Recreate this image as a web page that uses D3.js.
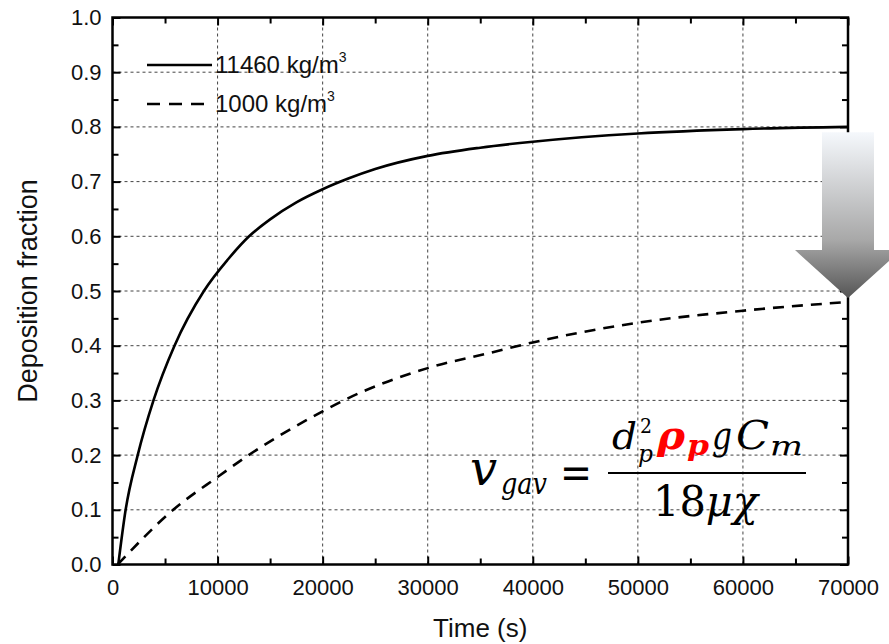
<!DOCTYPE html>
<html>
<head>
<meta charset="utf-8">
<script src="https://cdn.jsdelivr.net/npm/d3@7"></script>
<style>
  html, body { margin: 0; padding: 0; background: #fff; }
  svg { display: block; }
  .sans { font-family: Arial, "Liberation Sans", sans-serif; }
  .serif { font-family: "DejaVu Serif", "Liberation Serif", serif; }
</style>
</head>
<body>
<svg id="chart" width="889" height="644"></svg>
<script>
// ---- Data ----
const timeDense = [550, 1250, 2400, 3900, 5900, 8700, 11000, 13000, 15000, 17500, 20000, 22500, 25000, 30000, 35000, 40000, 50000, 60000, 70000];
const fracDense = [0, 0.1, 0.2, 0.3, 0.4, 0.5, 0.558, 0.6, 0.631, 0.662, 0.686, 0.706, 0.723, 0.747, 0.762, 0.773, 0.788, 0.796, 0.800];
const timeLight = [500, 5780, 10000, 12960, 20000, 22000, 30000, 35940, 40000, 50000, 60000, 70000];
const fracLight = [0, 0.1, 0.16, 0.2, 0.280, 0.3, 0.359, 0.387, 0.406, 0.442, 0.464, 0.48];
const seriesNames = ["11460 kg/m", "1000 kg/m"];
const xTicks = [0, 10000, 20000, 30000, 40000, 50000, 60000, 70000];
const yTicks = [0, 0.1, 0.2, 0.3, 0.4, 0.5, 0.6, 0.7, 0.8, 0.9, 1.0];
const xLabel = "Time (s)";
const yLabel = "Deposition fraction";

const svg = d3.select("#chart");
const x = d3.scaleLinear().domain([0, 70000]).range([112.5, 848]);
const y = d3.scaleLinear().domain([0, 1]).range([564.5, 17.5]);
const [x0, x1] = x.range();
const [yb, yt] = y.range();

// grid
const grid = svg.append("g").attr("stroke", "#444").attr("stroke-width", 1).attr("stroke-dasharray", "3,3");
grid.selectAll("line.v").data(xTicks.slice(1, -1)).join("line")
  .attr("x1", d => x(d)).attr("x2", d => x(d)).attr("y1", yb).attr("y2", yt);
grid.selectAll("line.h").data(yTicks.slice(1, -1)).join("line")
  .attr("y1", d => y(d)).attr("y2", d => y(d)).attr("x1", x0).attr("x2", x1);

const minorX = d3.range(5000, 70000, 10000);
const minorY = d3.range(0.05, 1, 0.1);

function styleAxis(g) {
  g.select(".domain").remove();
  g.selectAll(".tick line").attr("stroke", "#000").attr("stroke-width", 2);
  g.selectAll("text").attr("class", "sans").style("font-size", "22px").attr("fill", "#111");
}

svg.append("g").attr("transform", `translate(0,${yb})`)
  .call(d3.axisBottom(x).tickValues(xTicks).tickSize(-8).tickPadding(15).tickFormat(d3.format("d")))
  .call(styleAxis);
svg.append("g").attr("transform", `translate(0,${yb})`)
  .call(d3.axisBottom(x).tickValues(minorX).tickSize(-6).tickFormat(""))
  .call(styleAxis);
svg.append("g").attr("transform", `translate(0,${yt})`)
  .call(d3.axisTop(x).tickValues(xTicks).tickSize(-8).tickFormat(""))
  .call(styleAxis);
svg.append("g").attr("transform", `translate(0,${yt})`)
  .call(d3.axisTop(x).tickValues(minorX).tickSize(-6).tickFormat(""))
  .call(styleAxis);
svg.append("g").attr("transform", `translate(${x0},0)`)
  .call(d3.axisLeft(y).tickValues(yTicks).tickSize(-8).tickPadding(11).tickFormat(d3.format(".1f")))
  .call(styleAxis);
svg.append("g").attr("transform", `translate(${x0},0)`)
  .call(d3.axisLeft(y).tickValues(minorY).tickSize(-6).tickFormat(""))
  .call(styleAxis);
svg.append("g").attr("transform", `translate(${x1},0)`)
  .call(d3.axisRight(y).tickValues(yTicks).tickSize(-8).tickFormat(""))
  .call(styleAxis);
svg.append("g").attr("transform", `translate(${x1},0)`)
  .call(d3.axisRight(y).tickValues(minorY).tickSize(-6).tickFormat(""))
  .call(styleAxis);

// curves
const line = d3.line().x(d => x(d[0])).y(d => y(d[1])).curve(d3.curveMonotoneX);
svg.append("path").datum(d3.zip(timeDense, fracDense)).attr("d", line)
  .attr("fill", "none").attr("stroke", "#000").attr("stroke-width", 2.6);
svg.append("path").datum(d3.zip(timeLight, fracLight)).attr("d", line)
  .attr("fill", "none").attr("stroke", "#000").attr("stroke-width", 2.6).attr("stroke-dasharray", "11,8");

// frame
svg.append("rect").attr("x", x0).attr("y", yt).attr("width", x1 - x0).attr("height", yb - yt)
  .attr("fill", "none").attr("stroke", "#000").attr("stroke-width", 2.5);

// axis titles
svg.append("text").attr("class", "sans").attr("x", (x0 + x1) / 2).attr("y", 637).attr("text-anchor", "middle")
  .style("font-size", "26px").attr("fill", "#111").text(xLabel);
svg.append("text").attr("class", "sans").attr("transform", `translate(37,${(yb + yt) / 2}) rotate(-90)`).attr("text-anchor", "middle")
  .style("font-size", "27px").attr("fill", "#111").text(yLabel);

// legend
const leg = svg.append("g");
[0, 1].forEach(i => {
  const ly = 65 + i * 39;
  leg.append("line").attr("x1", 147).attr("x2", 212).attr("y1", ly).attr("y2", ly)
    .attr("stroke", "#000").attr("stroke-width", 2.6).attr("stroke-dasharray", i ? "13,9" : null);
  const t = leg.append("text").attr("class", "sans").attr("x", 215).attr("y", ly + 8).style("font-size", "24px").attr("fill", "#111");
  t.append("tspan").text(seriesNames[i]);
  t.append("tspan").style("font-size", "14px").attr("dy", -11).text("3");
});

// arrow annotation (gradient)
const defs = svg.append("defs");
const grad = defs.append("linearGradient").attr("id", "arrowGrad").attr("x1", 0).attr("y1", 0).attr("x2", 0).attr("y2", 1);
grad.append("stop").attr("offset", "0%").attr("stop-color", "#f5f8fc");
grad.append("stop").attr("offset", "65%").attr("stop-color", "#a8a8a8");
grad.append("stop").attr("offset", "100%").attr("stop-color", "#555555");
const ax = x(70000), aTop = y(0.79), aTip = y(0.487);
const arrow = d3.path();
arrow.moveTo(ax - 26, aTop);
arrow.lineTo(ax + 26, aTop);
arrow.lineTo(ax + 26, aTip - 48);
arrow.lineTo(ax + 53, aTip - 48);
arrow.lineTo(ax, aTip);
arrow.lineTo(ax - 53, aTip - 48);
arrow.lineTo(ax - 26, aTip - 48);
arrow.closePath();
svg.append("path").attr("d", arrow.toString()).attr("fill", "url(#arrowGrad)");

// formula
const f = svg.append("g");
function ft(xp, yp, s, size, opts = {}) {
  const t = f.append("text").attr("class", "serif").attr("x", xp).attr("y", yp)
    .style("font-size", size + "px")
    .style("font-style", opts.upright ? "normal" : "italic")
    .style("font-weight", opts.bold ? "bold" : "normal")
    .attr("fill", opts.color || "#000").text(s);
  if (opts.len) t.attr("textLength", opts.len).attr("lengthAdjust", "spacingAndGlyphs");
  return t;
}
ft(470, 485, "v", 48);
ft(501, 494, "gav", 30, {len: 46});
ft(560, 488, "=", 44, {upright: true, len: 32});
f.append("line").attr("x1", 608).attr("x2", 806).attr("y1", 473).attr("y2", 473).attr("stroke", "#000").attr("stroke-width", 2);
ft(612, 449, "d", 38, {len: 25});
ft(640, 433, "2", 20, {upright: true, len: 12});
ft(638, 462, "p", 24, {len: 15});
ft(657, 449, "ρ", 40, {bold: true, color: "#ff0000", len: 28});
ft(687, 455, "p", 28, {bold: true, color: "#ff0000", len: 22});
ft(712, 449, "g", 40, {len: 20});
ft(736, 449, "C", 40, {len: 33});
ft(770, 455, "m", 26, {len: 33});
const den = f.append("text").attr("class", "serif").attr("x", 653).attr("y", 516)
  .style("font-size", "42px").attr("textLength", 105).attr("lengthAdjust", "spacingAndGlyphs");
den.append("tspan").style("font-style", "normal").text("18");
den.append("tspan").style("font-style", "italic").text("μχ");
</script>
</body>
</html>
